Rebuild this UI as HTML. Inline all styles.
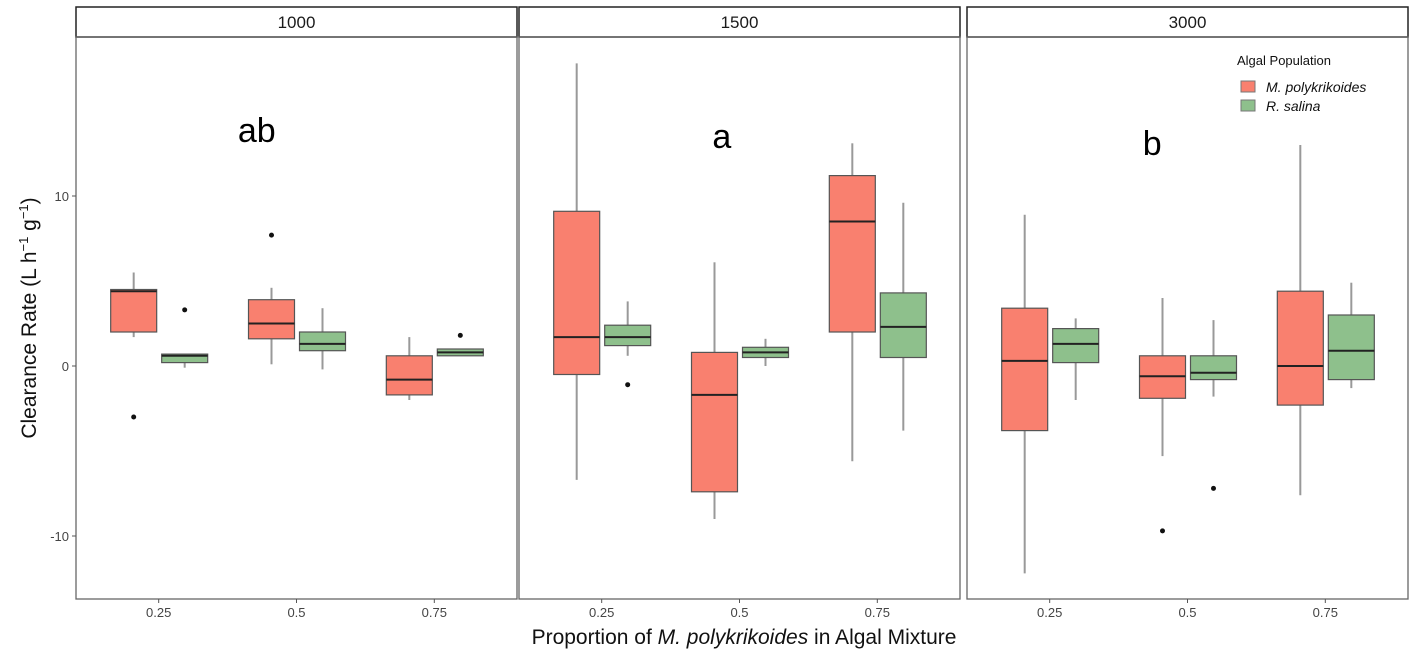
<!DOCTYPE html>
<html><head><meta charset="utf-8"><style>
body{margin:0;background:#fff;}
svg{display:block;font-family:"Liberation Sans",Arial,sans-serif;}
</style></head><body>
<svg id="chart" width="1417" height="658" viewBox="0 0 1417 658"></svg>
<script>
const panels = ["1000","1500","3000"];
const letters = ["ab","a","b"];
const categories = ["0.25","0.5","0.75"];
const yTicks = [10,0,-10];
// [lowerWhisker, Q1, median, Q3, upperWhisker] per panel, per category
const mpolyStats = [
  [[1.7,2.0,4.4,4.5,5.5],[0.1,1.6,2.5,3.9,4.6],[-2.0,-1.7,-0.8,0.6,1.7]],
  [[-6.7,-0.5,1.7,9.1,17.8],[-9.0,-7.4,-1.7,0.8,6.1],[-5.6,2.0,8.5,11.2,13.1]],
  [[-12.2,-3.8,0.3,3.4,8.9],[-5.3,-1.9,-0.6,0.6,4.0],[-7.6,-2.3,0.0,4.4,13.0]]
];
const rsalStats = [
  [[-0.1,0.2,0.6,0.7,0.7],[-0.2,0.9,1.3,2.0,3.4],[0.6,0.6,0.8,1.0,1.0]],
  [[0.6,1.2,1.7,2.4,3.8],[0.0,0.5,0.8,1.1,1.6],[-3.8,0.5,2.3,4.3,9.6]],
  [[-2.0,0.2,1.3,2.2,2.8],[-1.8,-0.8,-0.4,0.6,2.7],[-1.3,-0.8,0.9,3.0,4.9]]
];
const mpolyOutliers = [[[-3.0],[7.7],[]],[[],[],[]],[[],[-9.7],[]]];
const rsalOutliers = [[[3.3],[],[1.8]],[[-1.1],[],[]],[[],[-7.2],[]]];

const NS="http://www.w3.org/2000/svg";
const svg=document.getElementById('chart');
function mk(tag,attrs,parent){const e=document.createElementNS(NS,tag);for(const k in attrs)e.setAttribute(k,attrs[k]);(parent||svg).appendChild(e);return e;}
const panelLeft=[76,519,967], panelW=441, plotTop=37, plotBot=599;
function y(v){return 366-17*v;}
function x(p,i){return panelLeft[p]+panelW*(0.6+i)/3.2;}
const colors={m:"#F9806F",r:"#8EC08C"};

panels.forEach((lab,p)=>{
  const g=mk('g',{});
  
  
  const strip=mk('rect',{x:panelLeft[p],y:7,width:panelW,height:30,fill:'#fff',stroke:'#222','stroke-width':1.5},g);
  
  
  const st=mk('text',{x:panelLeft[p]+panelW/2,y:28,'text-anchor':'middle','font-size':17,fill:'#1a1a1a'},g);
  st.textContent=lab;
  
  
  const fr=mk('rect',{x:panelLeft[p],y:plotTop,width:panelW,height:plotBot-plotTop,fill:'none',stroke:'#666','stroke-width':1.3},g);
  
  
  categories.forEach((c,i)=>{
    const cx=x(p,i);
    mk('line',{x1:cx,x2:cx,y1:plotBot,y2:plotBot+4,stroke:'#555'},g);
    const t=mk('text',{x:cx,y:plotBot+18,'text-anchor':'middle','font-size':13,fill:'#444'},g);
    t.textContent=c;
    
    
    [[mpolyStats,mpolyOutliers,colors.m,-25,'mpoly'],[rsalStats,rsalOutliers,colors.r,26,'rsalina']].forEach(([S,O,col,off,nm])=>{
      const s=S[p][i], bx=cx+off, w=46;
      const bg=mk('g',{},g);
      
      
      mk('line',{x1:bx,x2:bx,y1:y(s[4]),y2:y(s[3]),stroke:'#999','stroke-width':2},bg);
      mk('line',{x1:bx,x2:bx,y1:y(s[1]),y2:y(s[0]),stroke:'#999','stroke-width':2},bg);
      mk('rect',{x:bx-w/2,y:y(s[3]),width:w,height:Math.max(y(s[1])-y(s[3]),1),fill:col,stroke:'#555','stroke-width':1.2},bg);
      mk('line',{x1:bx-w/2,x2:bx+w/2,y1:y(s[2]),y2:y(s[2]),stroke:'#222','stroke-width':2},bg);
      O[p][i].forEach(v=>mk('circle',{cx:bx,cy:y(v),r:2.5,fill:'#111'},bg));
    });
  });
  const L=mk('text',{x:panelLeft[p]+panelW*[0.41,0.46,0.42][p],y:[142,148,155][p],'text-anchor':'middle','font-size':34,fill:'#000'},g);
  L.textContent=letters[p];
  
  
});
yTicks.forEach(v=>{
  mk('line',{x1:72,x2:76,y1:y(v),y2:y(v),stroke:'#555'});
  const t=mk('text',{x:69,y:y(v)+5,'text-anchor':'end','font-size':13,fill:'#444'});
  t.textContent=v;
  
  
});
</script>
<svg style="position:absolute;left:0;top:0" width="1417" height="658">
<text x="36" y="318" transform="rotate(-90 36 318)" text-anchor="middle" font-size="21" fill="#111" font-family="Liberation Sans, sans-serif">Clearance Rate (L h<tspan dy="-8" font-size="13">−1</tspan><tspan dy="8"> g</tspan><tspan dy="-8" font-size="13">−1</tspan><tspan dy="8">)</tspan></text>
<text x="744" y="644" text-anchor="middle" font-size="21" fill="#111" font-family="Liberation Sans, sans-serif">Proportion of <tspan font-style="italic">M. polykrikoides</tspan> in Algal Mixture</text>
<g font-family="Liberation Sans, sans-serif">
<text x="1237" y="65" font-size="13" fill="#111">Algal Population</text>
<rect x="1241" y="81" width="14" height="11" fill="#F9806F" stroke="#777"/>
<text x="1266" y="92" font-size="14" font-style="italic" fill="#111">M. polykrikoides</text>
<rect x="1241" y="100" width="14" height="11" fill="#8EC08C" stroke="#777"/>
<text x="1266" y="111" font-size="14" font-style="italic" fill="#111">R. salina</text>
</g>
</svg>
</body></html>
